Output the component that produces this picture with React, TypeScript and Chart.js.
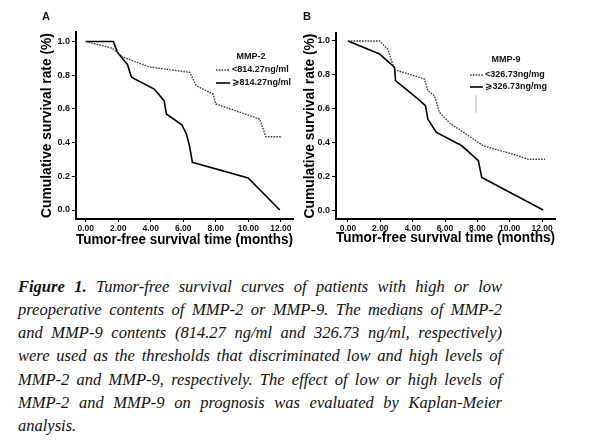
import React, { useEffect, useRef } from "react";
import { Chart, registerables } from "chart.js";

Chart.register(...registerables);

// ---- data ----
const xTickValues = [0, 2, 4, 6, 8, 10, 12];
const yTickValues = [0, 0.2, 0.4, 0.6, 0.8, 1.0];

const xAxisTitle = "Tumor-free survival time (months)";
const yAxisTitle = "Cumulative survival rate (%)";

const mmp2Title = "MMP-2";
const mmp2LowLabel = "<814.27ng/ml";
const mmp2HighLabel = "\u2A7E814.27ng/ml";
const mmp2LowMonths = [0, 1.64, 2.0, 2.26, 2.9, 3.9, 5.0, 6.4, 6.8, 7.83, 8.0, 10.7, 11.08, 12.04];
const mmp2LowSurv = [1.0, 0.96, 0.93, 0.91, 0.885, 0.85, 0.835, 0.817, 0.738, 0.688, 0.629, 0.54, 0.435, 0.435];
const mmp2HighMonths = [0, 1.7, 1.95, 2.57, 2.81, 4.21, 4.82, 4.96, 5.91, 6.2, 6.4, 6.56, 9.99, 11.94];
const mmp2HighSurv = [1.0, 1.0, 0.936, 0.862, 0.788, 0.718, 0.649, 0.57, 0.506, 0.45, 0.372, 0.283, 0.19, 0.0];

const mmp9Title = "MMP-9";
const mmp9LowLabel = "<326.73ng/mg";
const mmp9HighLabel = "\u2A7E326.73ng/mg";
const mmp9LowMonths = [0, 1.95, 2.47, 2.67, 2.88, 4.73, 4.94, 5.35, 5.65, 6.31, 7.75, 8.37, 10.2, 11.15, 12.18];
const mmp9LowSurv = [1.0, 1.0, 0.95, 0.89, 0.83, 0.775, 0.705, 0.676, 0.578, 0.513, 0.42, 0.38, 0.33, 0.3, 0.3];
const mmp9HighMonths = [0, 1.95, 2.88, 2.94, 4.32, 4.79, 4.94, 5.45, 7.04, 8.06, 8.27, 12.07];
const mmp9HighSurv = [1.0, 0.923, 0.844, 0.765, 0.657, 0.617, 0.538, 0.46, 0.38, 0.292, 0.193, 0.0];

const captionLines = [
  "Tumor-free survival curves of patients with high or low",
  "preoperative contents of MMP-2 or MMP-9. The medians of MMP-2",
  "and MMP-9 contents (814.27 ng/ml and 326.73 ng/ml, respectively)",
  "were used as the thresholds that discriminated low and high levels of",
  "MMP-2 and MMP-9, respectively. The effect of low or high levels of",
  "MMP-2 and MMP-9 on prognosis was evaluated by Kaplan-Meier",
  "analysis.",
];

const SANS = "'Liberation Sans', Arial, 'DejaVu Sans', sans-serif";

const toPoints = (xs: number[], ys: number[]) => xs.map((x, i) => ({ x, y: ys[i] }));

type LegendCfg = {
  title: string;
  titleX: number;
  titleY: number;
  lineX0: number;
  lineX1: number;
  rowY: number[];
  textX: number;
  mark?: { x: number; y0: number; y1: number };
};

const legendPlugin = {
  id: "kmLegend",
  afterDraw(chart: any, _args: any, opts: any) {
    const cfg: LegendCfg = opts.cfg;
    if (!cfg) return;
    const ctx = chart.ctx;
    ctx.save();
    ctx.fillStyle = "#111";
    ctx.font = `bold 9px ${SANS}`;
    ctx.textAlign = "center";
    ctx.textBaseline = "middle";
    ctx.fillText(cfg.title, cfg.titleX, cfg.titleY);
    chart.data.datasets.forEach((ds: any, i: number) => {
      const y = cfg.rowY[i];
      ctx.beginPath();
      ctx.strokeStyle = ds.borderColor;
      ctx.lineWidth = ds.borderWidth;
      ctx.setLineDash(ds.borderDash || []);
      ctx.moveTo(cfg.lineX0, y);
      ctx.lineTo(cfg.lineX1, y);
      ctx.stroke();
      ctx.setLineDash([]);
      ctx.textAlign = "left";
      ctx.fillStyle = "#111";
      ctx.fillText(ds.label, cfg.textX, y);
    });
    if (cfg.mark) {
      ctx.beginPath();
      ctx.strokeStyle = "#bbbbbb";
      ctx.lineWidth = 1;
      ctx.moveTo(cfg.mark.x, cfg.mark.y0);
      ctx.lineTo(cfg.mark.x, cfg.mark.y1);
      ctx.stroke();
    }
    ctx.restore();
  },
};

type PanelProps = {
  left: number;
  width: number;
  height: number;
  padLeft: number;
  padRight: number;
  padTop: number;
  yAxisWidth: number;
  xAxisHeight: number;
  yTitlePad: number;
  xTitlePad: number;
  xMin: number;
  xMax: number;
  yMin: number;
  yMax: number;
  lowLabel: string;
  highLabel: string;
  lowMonths: number[];
  lowSurv: number[];
  highMonths: number[];
  highSurv: number[];
  legend: LegendCfg;
};

function Panel(p: PanelProps) {
  const ref = useRef<HTMLCanvasElement | null>(null);
  useEffect(() => {
    if (!ref.current) return;
    const chart = new Chart(ref.current, {
      type: "line",
      data: {
        datasets: [
          {
            label: p.lowLabel,
            data: toPoints(p.lowMonths, p.lowSurv),
            borderColor: "#3a3a3a",
            borderWidth: 1.4,
            borderDash: [1.6, 1.2],
            pointRadius: 0,
            tension: 0,
            fill: false,
          },
          {
            label: p.highLabel,
            data: toPoints(p.highMonths, p.highSurv),
            borderColor: "#000",
            borderWidth: 1.6,
            pointRadius: 0,
            tension: 0,
            fill: false,
          },
        ],
      },
      options: {
        animation: false,
        responsive: false,
        maintainAspectRatio: false,
        devicePixelRatio: 1,
        layout: { padding: { left: p.padLeft, right: p.padRight, top: p.padTop, bottom: 0 } },
        plugins: {
          legend: { display: false },
          tooltip: { enabled: false },
          kmLegend: { cfg: p.legend },
        } as any,
        scales: {
          x: {
            type: "linear",
            min: p.xMin,
            max: p.xMax,
            afterBuildTicks: (s: any) => {
              s.ticks = xTickValues.map((v) => ({ value: v }));
            },
            afterFit: (s: any) => {
              s.height = p.xAxisHeight;
            },
            border: { display: true, color: "#000", width: 2 },
            grid: { drawOnChartArea: false, drawTicks: true, tickLength: 3, color: "#000", lineWidth: 1 },
            ticks: {
              autoSkip: false,
              maxRotation: 0,
              padding: 2,
              color: "#111",
              font: { family: SANS, size: 8.5, weight: "bold" },
              callback: (v: any) => Number(v).toFixed(2),
            },
            title: {
              display: true,
              text: xAxisTitle,
              color: "#000",
              font: { family: SANS, size: 13.8, weight: "bold" },
              padding: { top: 0, bottom: p.xTitlePad },
            },
          },
          y: {
            type: "linear",
            min: p.yMin,
            max: p.yMax,
            afterBuildTicks: (s: any) => {
              s.ticks = yTickValues.map((v) => ({ value: v }));
            },
            afterFit: (s: any) => {
              s.width = p.yAxisWidth;
            },
            border: { display: true, color: "#000", width: 2 },
            grid: { drawOnChartArea: false, drawTicks: true, tickLength: 4, color: "#000", lineWidth: 1 },
            ticks: {
              autoSkip: false,
              padding: 2,
              color: "#111",
              font: { family: SANS, size: 9, weight: "bold" },
              callback: (v: any) => Number(v).toFixed(1),
            },
            title: {
              display: true,
              text: yAxisTitle,
              color: "#000",
              font: { family: SANS, size: 13.8, weight: "bold" },
              padding: { top: p.yTitlePad, bottom: 0 },
            },
          },
        },
      } as any,
      plugins: [legendPlugin],
    });
    return () => chart.destroy();
  }, []);
  return (
    <canvas
      ref={ref}
      width={p.width}
      height={p.height}
      style={{ position: "absolute", left: p.left, top: 0, width: p.width, height: p.height }}
    />
  );
}

export default function App() {
  useEffect(() => {
    document.body.style.margin = "0";
    document.body.style.overflow = "hidden";
  }, []);
  return (
    <div style={{ position: "relative", width: 596, height: 448, background: "#fff", overflow: "hidden" }}>
      <Panel
        left={0}
        width={300}
        height={260}
        padLeft={0}
        padRight={7}
        padTop={32}
        yAxisWidth={76}
        xAxisHeight={41}
        yTitlePad={39}
        xTitlePad={12}
        xMin={-0.6}
        xMax={12.75}
        yMin={-0.0534}
        yMax={1.0564}
        lowLabel={mmp2LowLabel}
        highLabel={mmp2HighLabel}
        lowMonths={mmp2LowMonths}
        lowSurv={mmp2LowSurv}
        highMonths={mmp2HighMonths}
        highSurv={mmp2HighSurv}
        legend={{ title: mmp2Title, titleX: 251, titleY: 57, lineX0: 216, lineX1: 230, rowY: [70, 83], textX: 232 }}
      />
      <Panel
        left={260}
        width={336}
        height={260}
        padLeft={0}
        padRight={41}
        padTop={33}
        yAxisWidth={76}
        xAxisHeight={41}
        yTitlePad={42}
        xTitlePad={14}
        xMin={-0.74}
        xMax={12.8}
        yMin={-0.053}
        yMax={1.047}
        lowLabel={mmp9LowLabel}
        highLabel={mmp9HighLabel}
        lowMonths={mmp9LowMonths}
        lowSurv={mmp9LowSurv}
        highMonths={mmp9HighMonths}
        highSurv={mmp9HighSurv}
        legend={{
          title: mmp9Title,
          titleX: 246,
          titleY: 60,
          lineX0: 210,
          lineX1: 223,
          rowY: [75, 87],
          textX: 225,
          mark: { x: 216, y0: 95, y1: 113 },
        }}
      />
      <div style={{ position: "absolute", left: 42, top: 10, font: `bold 11px ${SANS}`, color: "#111" }}>A</div>
      <div style={{ position: "absolute", left: 303, top: 10, font: `bold 11px ${SANS}`, color: "#111" }}>B</div>
      <div
        style={{
          position: "absolute",
          left: 18,
          top: 274.5,
          width: 484,
          fontFamily: "'Liberation Serif', 'Times New Roman', serif",
          fontStyle: "italic",
          fontSize: 16.5,
          lineHeight: "23.33px",
          color: "#111",
        }}
      >
        {captionLines.map((line, i) => {
          const last = i === captionLines.length - 1;
          return (
            <div
              key={i}
              style={{
                whiteSpace: "nowrap",
                textAlign: last ? "left" : "justify",
                textAlignLast: last ? "left" : "justify",
              } as any}
            >
              {i === 0 ? <b>Figure 1. </b> : null}
              {line}
            </div>
          );
        })}
      </div>
    </div>
  );
}
